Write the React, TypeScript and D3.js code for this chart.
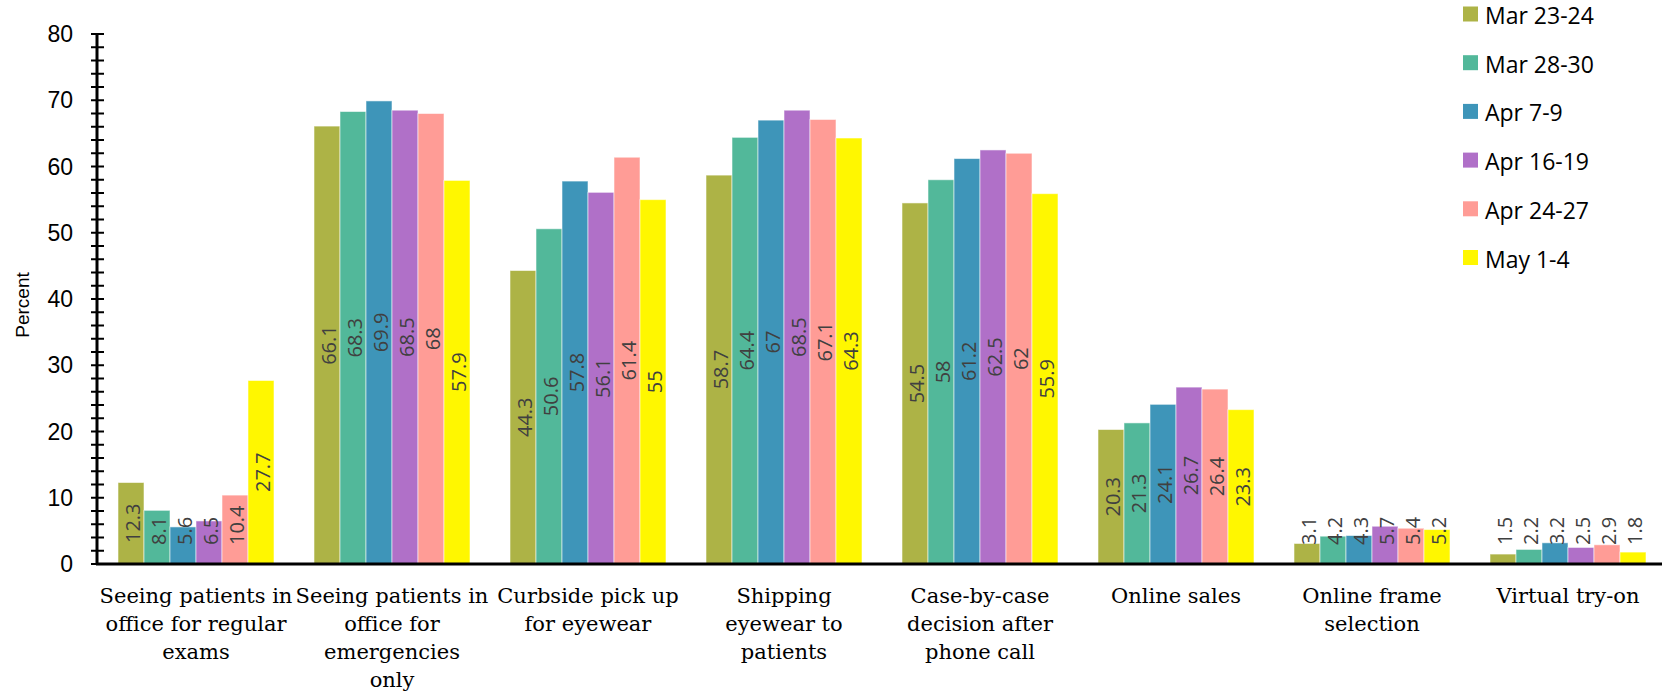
import React from "react";
import * as d3 from "d3";

const categories: string[][] = [
  ["Seeing patients in", "office for regular", "exams"],
  ["Seeing patients in", "office for", "emergencies", "only"],
  ["Curbside pick up", "for eyewear"],
  ["Shipping", "eyewear to", "patients"],
  ["Case-by-case", "decision after", "phone call"],
  ["Online sales"],
  ["Online frame", "selection"],
  ["Virtual try-on"],
];

const seriesNames = ["Mar 23-24", "Mar 28-30", "Apr 7-9", "Apr 16-19", "Apr 24-27", "May 1-4"];
const seriesColors = ["#adb346", "#52b89a", "#3e95b9", "#b070c8", "#ff9c96", "#fff700"];

const mar2324 = [12.3, 66.1, 44.3, 58.7, 54.5, 20.3, 3.1, 1.5];
const mar2830 = [8.1, 68.3, 50.6, 64.4, 58, 21.3, 4.2, 2.2];
const apr79 = [5.6, 69.9, 57.8, 67, 61.2, 24.1, 4.3, 3.2];
const apr1619 = [6.5, 68.5, 56.1, 68.5, 62.5, 26.7, 5.7, 2.5];
const apr2427 = [10.4, 68, 61.4, 67.1, 62, 26.4, 5.4, 2.9];
const may14 = [27.7, 57.9, 55, 64.3, 55.9, 23.3, 5.2, 1.8];

const seriesValues = [mar2324, mar2830, apr79, apr1619, apr2427, may14];

const yTicks = [0, 10, 20, 30, 40, 50, 60, 70, 80];

const W = 1662;
const H = 693;

function textLen(s: string, fs: number) {
  let w = 0;
  for (const c of s) w += c === "." ? 0.267 : 0.572;
  return w * fs;
}

export default function App() {
  const y = d3.scaleLinear().domain([0, 80]).range([564, 34]);
  const x0 = d3
    .scaleBand<number>()
    .domain(categories.map((_, i) => i))
    .range([98, 1666])
    .padding(0);
  const x1 = d3
    .scaleBand<number>()
    .domain(seriesNames.map((_, i) => i))
    .range([20, x0.bandwidth() - 20])
    .padding(0);
  const minorTicks = d3.range(0, 81, 2);
  const labelFs = 20;
  const labelBottom = 545;

  return (
    <div style={{ position: "absolute", left: 0, top: 0 }}>
      <svg width={W} height={H} style={{ display: "block", background: "#fff" }}>
        {/* bars */}
        {categories.map((_, ci) => (
          <g key={ci} transform={`translate(${x0(ci)},0)`}>
            {seriesValues.map((vals, si) => {
              const v = vals[ci];
              const bx = x1(si)!;
              const bw = x1.bandwidth();
              return (
                <rect
                  key={si}
                  x={bx}
                  y={y(v)}
                  width={bw}
                  height={y(0) - y(v)}
                  fill={seriesColors[si]}
                  stroke="rgba(255,255,255,0.55)"
                  strokeWidth={1}
                />
              );
            })}
          </g>
        ))}
        {/* data labels */}
        {categories.map((_, ci) => (
          <g key={"l" + ci} transform={`translate(${x0(ci)},0)`}>
            {seriesValues.map((vals, si) => {
              const v = vals[ci];
              const cx = x1(si)! + x1.bandwidth() / 2;
              const s = String(v);
              const half = textLen(s, labelFs) / 2;
              const mid = (y(v) + y(0)) / 2;
              const clamp = mid + half > labelBottom;
              const cy = clamp ? labelBottom : mid;
              return (
                <text
                  key={si}
                  transform={`translate(${cx + 1},${cy}) rotate(-90)`}
                  textAnchor={clamp ? "start" : "middle"}
                  dominantBaseline="central"
                  fontFamily="'Open Sans', sans-serif"
                  fontSize={labelFs}
                  fill="#404040"
                >
                  {s}
                </text>
              );
            })}
          </g>
        ))}
        {/* y axis */}
        <line x1={97} x2={97} y1={y(80)} y2={y(0)} stroke="#000" strokeWidth={3} />
        {minorTicks.map((t) => (
          <line key={t} x1={91} x2={104} y1={y(t)} y2={y(t)} stroke="#000" strokeWidth={2} />
        ))}
        {yTicks.map((t) => (
          <text
            key={t}
            x={73}
            y={y(t)}
            textAnchor="end"
            dominantBaseline="central"
            fontFamily="'Liberation Sans', Arial, sans-serif"
            fontSize={23}
            fill="#000"
          >
            {t}
          </text>
        ))}
        <text
          transform={`translate(22,${305}) rotate(-90)`}
          textAnchor="middle"
          dominantBaseline="central"
          fontFamily="'Liberation Sans', Arial, sans-serif"
          fontSize={19}
          fill="#000"
        >
          Percent
        </text>
        {/* x axis */}
        <line x1={96} x2={W} y1={564} y2={564} stroke="#000" strokeWidth={3} />
        {categories.map((lines, ci) => (
          <text
            key={"x" + ci}
            x={x0(ci)! + x0.bandwidth() / 2}
            y={603}
            textAnchor="middle"
            fontFamily="'DejaVu Serif', serif"
            fontSize={21}
            fill="#000"
          >
            {lines.map((ln, li) => (
              <tspan key={li} x={x0(ci)! + x0.bandwidth() / 2} dy={li === 0 ? 0 : 28}>
                {ln}
              </tspan>
            ))}
          </text>
        ))}
        {/* legend */}
        {seriesNames.map((n, i) => (
          <g key={n} transform={`translate(1463,${14 + i * 48.7})`}>
            <rect x={0} y={-7.5} width={15} height={15} fill={seriesColors[i]} />
            <text
              x={22}
              y={10}
              fontFamily="'Open Sans', sans-serif"
              fontSize={23}
              fill="#000"
            >
              {n}
            </text>
          </g>
        ))}
      </svg>
    </div>
  );
}
